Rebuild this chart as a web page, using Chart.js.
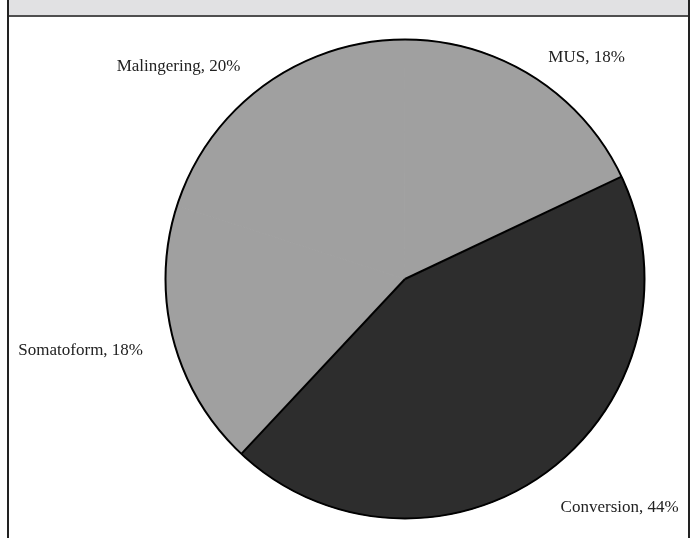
<!DOCTYPE html>
<html>
<head>
<meta charset="utf-8">
<script src="https://cdn.jsdelivr.net/npm/chart.js@4.4.0/dist/chart.umd.min.js"></script>
<style>
  body { margin: 0; background: #fff; width: 690px; height: 538px; overflow: hidden; position: relative; }
  #frame { position: absolute; left: 7px; top: 0; width: 679px; height: 538px;
           border-left: 2px solid #222; border-right: 2px solid #222; }
  #header { position: absolute; left: 9px; top: 0; width: 679px; height: 15px;
            background: #e1e1e3; border-bottom: 2px solid #4f4f4f; }
  #wrap { position: absolute; left: 9px; top: 17px; width: 678px; height: 521px; }
</style>
</head>
<body>
<div id="frame"></div>
<div id="header"></div>
<div id="wrap"><canvas id="pie" width="678" height="521"></canvas></div>
<script>
// data, in drawing order (clockwise from the right-hand edge)
const categories = ["Conversion", "Somatoform", "Malingering", "MUS"];
const percentages = [44, 18, 20, 18];

// looks
const sliceColors = ["#2d2d2d", "#a0a0a0", "#a0a0a0", "#a0a0a0"];
const labelShiftDeg = [-7.1, 2.0, -10.7, 7.05];  // nudge label around the pie
const labelRadius = [1.309, 1.387, 1.297, 1.196]; // label distance, x outer radius

// outline + black edges only where the colour changes + outside labels
const outlinePlugin = {
  id: "outline",
  afterDatasetsDraw(chart) {
    const ctx = chart.ctx;
    const arcs = chart.getDatasetMeta(0).data;
    const n = arcs.length;
    const { x, y, outerRadius } = arcs[0].getProps(["x", "y", "outerRadius"], true);

    ctx.save();
    ctx.strokeStyle = "#000";
    ctx.lineWidth = 2;
    ctx.beginPath();
    ctx.arc(x, y, outerRadius, 0, Math.PI * 2);
    ctx.stroke();

    arcs.forEach((arc, i) => {
      if (sliceColors[i] !== sliceColors[(i - 1 + n) % n]) {
        const a = arc.startAngle;
        ctx.beginPath();
        ctx.moveTo(x, y);
        ctx.lineTo(x + Math.cos(a) * outerRadius, y + Math.sin(a) * outerRadius);
        ctx.stroke();
      }
    });

    ctx.fillStyle = "#222";
    ctx.font = "17px 'Liberation Serif', 'Times New Roman', serif";
    ctx.textAlign = "center";
    ctx.textBaseline = "middle";
    arcs.forEach((arc, i) => {
      const mid = (arc.startAngle + arc.endAngle) / 2 + labelShiftDeg[i] * Math.PI / 180;
      const r = outerRadius * labelRadius[i];
      ctx.fillText(categories[i] + ", " + percentages[i] + "%",
        x + Math.cos(mid) * r, y + Math.sin(mid) * r);
    });
    ctx.restore();
  }
};

new Chart(document.querySelector("#pie"), {
  type: "pie",
  data: {
    labels: categories,
    datasets: [{
      data: percentages,
      backgroundColor: sliceColors,
      borderColor: sliceColors,
      borderWidth: 1
    }]
  },
  options: {
    responsive: false,
    animation: false,
    rotation: 64.7,
    layout: { padding: { left: 156, right: 42, top: 22, bottom: 19 } },
    plugins: {
      legend: { display: false },
      tooltip: { enabled: false }
    }
  },
  plugins: [outlinePlugin]
});
</script>
</body>
</html>
